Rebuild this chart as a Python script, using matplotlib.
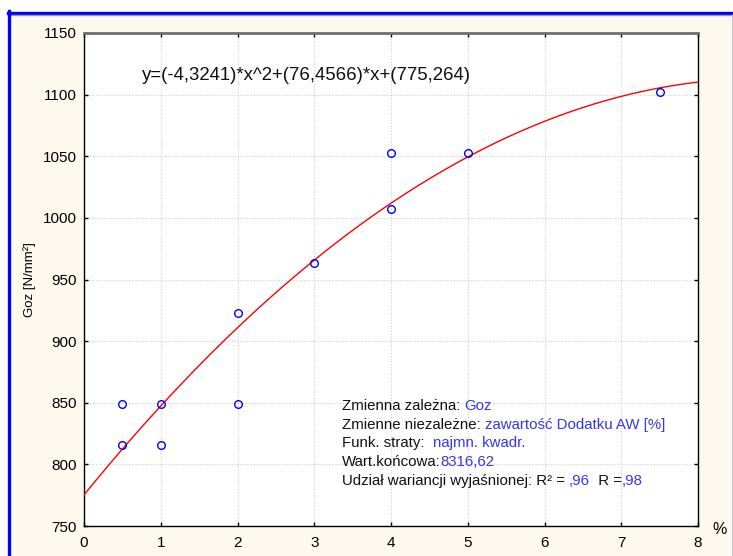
import numpy as np
import matplotlib
matplotlib.use("Agg")
import matplotlib.pyplot as plt
from matplotlib.patches import Rectangle
from matplotlib.lines import Line2D

# measured points: additive content (%) vs Goz [N/mm2]
x_pct = [0.5, 0.5, 1, 1, 2, 2, 3, 4, 4, 5, 7.5]
goz = [849, 816, 849, 816, 923, 849, 963, 1053, 1007, 1053, 1102]

# fitted quadratic y = a*x^2 + b*x + c
coef = [-4.3241, 76.4566, 775.264]

x_ticks = [0, 1, 2, 3, 4, 5, 6, 7, 8]
y_ticks = [750, 800, 850, 900, 950, 1000, 1050, 1100, 1150]

info_lines = [
    ("Zmienna zależna: ", "Goz"),
    ("Zmienne niezależne: ", "zawartość Dodatku AW [%]"),
    ("Funk. straty:  ", "najmn. kwadr."),
    ("Wart.końcowa:", "8316,62"),
]

W, H = 733, 556
BG = "#FEF9EE"
BLUE_TXT = "#3535F5"
SANS = ["Liberation Sans", "DejaVu Sans"]


def fx(px):
    return px / W


def fy(py):
    return 1 - py / H


fig = plt.figure(figsize=(W / 100, H / 100), dpi=100)
fig.patch.set_facecolor("white")
fig.patches.append(Rectangle((fx(10), 0), fx(721), fy(14), transform=fig.transFigure,
                             facecolor=BG, edgecolor="none", zorder=-10))
fig.lines.append(Line2D([fx(8), fx(733)], [fy(12.5), fy(12.5)], transform=fig.transFigure,
                        color="#0000FF", lw=2.4))
fig.lines.append(Line2D([fx(10), fx(733)], [fy(14.5), fy(14.5)], transform=fig.transFigure,
                        color="#9a9a9a", lw=1))
fig.lines.append(Line2D([fx(9), fx(9)], [fy(11), 0], transform=fig.transFigure,
                        color="#0000FF", lw=2.4))
fig.lines.append(Line2D([fx(731.5), fx(731.5)], [fy(15), 0], transform=fig.transFigure,
                        color="#c8c8c8", lw=1))

ax = fig.add_axes([fx(84), fy(526), fx(698 - 84), (526 - 33) / H])
ax.set_facecolor("white")

xx = np.linspace(0, 8, 300)
ax.plot(xx, np.polyval(coef, xx), color="#FF0000", lw=1.0, zorder=3)
ax.plot(x_pct, goz, "o", mfc="none", mec="#0000FF", mew=1.0, ms=5.5, zorder=4)

ax.set_xlim(0, 8)
ax.set_ylim(750, 1150)
ax.set_xticks(x_ticks)
ax.set_yticks(y_ticks)
ax.grid(True, color="#d0d0d0", linestyle=(0, (1, 1.5)), lw=0.8)
ax.tick_params(direction="in", length=3, width=1, top=True, right=True, colors="black")
ax.tick_params(axis="y", pad=5)
ax.tick_params(axis="x", pad=7)
for lab in ax.get_xticklabels() + ax.get_yticklabels():
    lab.set_family(SANS)
    lab.set_fontsize(11)
for side in ["left", "bottom", "right"]:
    ax.spines[side].set_color("black")
    ax.spines[side].set_linewidth(1.0)
ax.spines["top"].set_color("#707070")
ax.spines["top"].set_linewidth(2.0)

ax.set_ylabel("Goz [N/mm²]", family=SANS, fontsize=9.5, labelpad=0)
ax.yaxis.set_label_coords(-(84 - 36) / (698 - 84), 0.5)
fig.text(fx(712), fy(530), "%", family=SANS, fontsize=11.5, ha="left", va="center")

ax.text(fx(142 - 84) / fx(614), (526 - 75) / 493,
        "y=(-4,3241)*x^2+(76,4566)*x+(775,264)",
        transform=ax.transAxes, family=SANS, fontsize=13.4, va="center", ha="left",
        color="#111111")

renderer = fig.canvas.get_renderer()


def multi_text(x_px, y_px, parts):
    x = fx(x_px)
    for txt, col in parts:
        t = fig.text(x, fy(y_px), txt, color=col, family=SANS, fontsize=10.8,
                     ha="left", va="center")
        bb = t.get_window_extent(renderer)
        x = bb.x1 / W


line_y = [406, 425, 443, 462]
for (lab, val), y in zip(info_lines, line_y):
    multi_text(342, y, [(lab, "#111111"), (val, BLUE_TXT)])
multi_text(342, 481, [("Udział wariancji wyjaśnionej: R² = ", "#111111"), (",96", BLUE_TXT),
                      ("  R =", "#111111"), (",98", BLUE_TXT)])

fig.savefig("out.png", dpi=100, facecolor=fig.get_facecolor())
